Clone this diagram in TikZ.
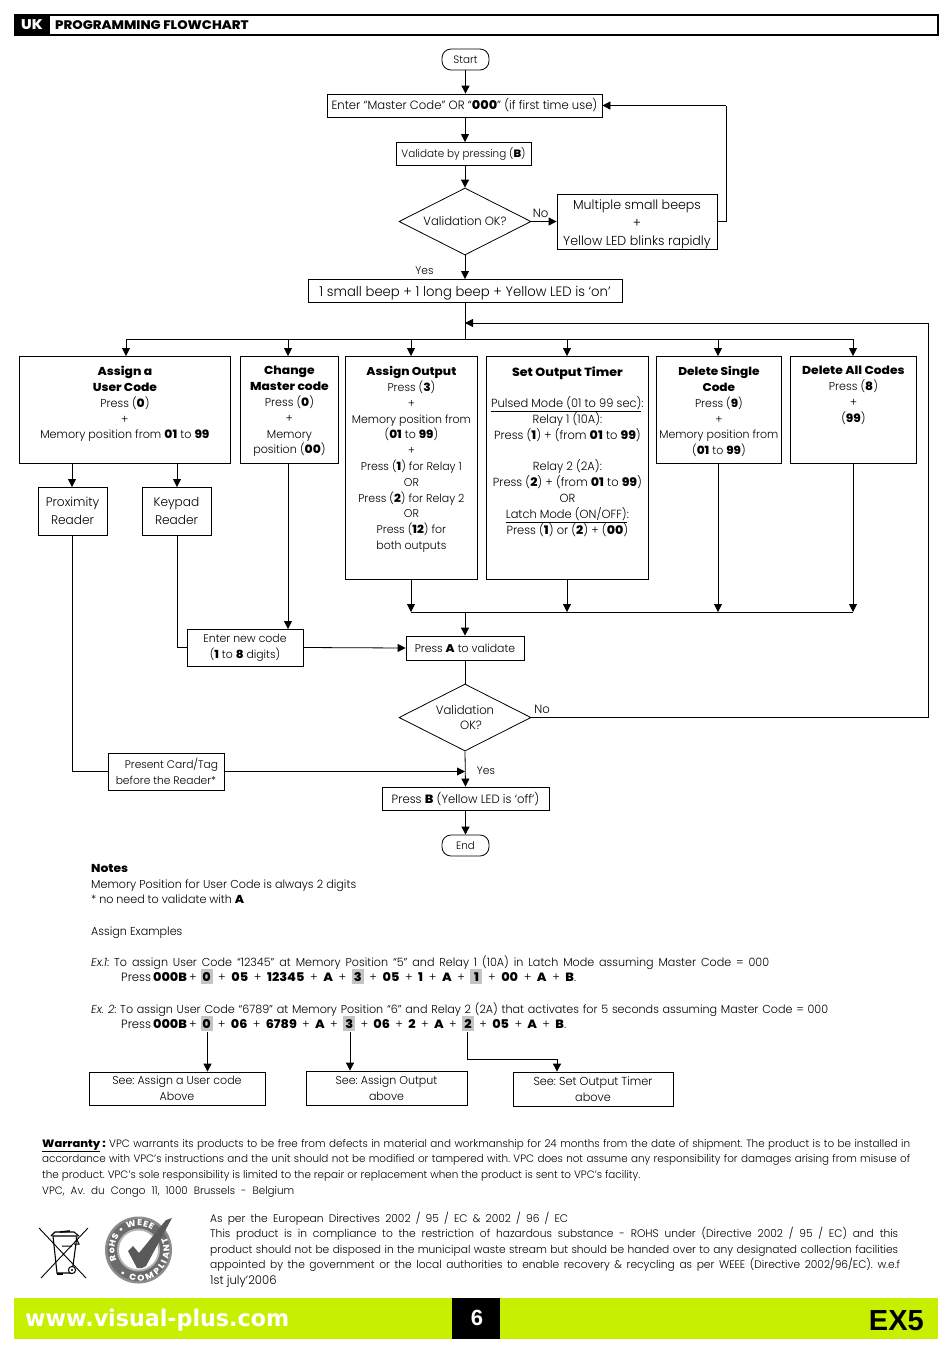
\documentclass[tikz,border=0pt]{standalone}
\usepackage{fontspec}
\usetikzlibrary{arrows.meta,shapes.geometric,decorations.text}
\setmainfont{Poppins}[UprightFont=* Light,BoldFont=* ExtraBold,ItalicFont=* Light Italic,BoldItalicFont=* ExtraBold Italic,FakeStretch=0.97,BoldFeatures={FakeStretch=1.07}]
\newfontfamily\wwwfont{DejaVu Sans}[FakeStretch=0.965]
\newfontfamily\arialfont{Liberation Sans}
\definecolor{limeband}{HTML}{C6F000}
\definecolor{hlgray}{HTML}{C4C4C4}
\AtBeginDocument{\frenchspacing}
\newcommand{\fsz}[1]{\fontsize{#1}{15.8}\selectfont}
\newcommand{\tbox}[4]{\parbox[c][#2pt][t]{#1pt}{\fsz{#3}\centering\vspace*{10pt}#4}}
\newcommand{\wln}[2]{\hbox to #1pt{#2}}
\newcommand{\hlb}[1]{\tikz[baseline=0pt,x=1pt,y=1pt]{\fill[hlgray](-6,-3)rectangle(6,12);\node[inner sep=0,anchor=base] at (0,0){\textbf{#1}};}}
\tikzset{
 x=1pt,y=-1pt,
 >={Triangle[length=8pt,width=8pt]},
 conn/.style={draw,line width=.8pt},
 flow/.style={conn,->},
 boxy/.style={draw,line width=.8pt,inner sep=0pt,align=center,font=\fsz{11.5}},
 pill/.style={boxy,rounded corners=9pt,minimum width=47pt,minimum height=21pt},
 dia/.style={draw,line width=.8pt,diamond,aspect=1.97,inner sep=0pt,minimum width=132pt,minimum height=67pt,align=center,font=\fsz{12}},
 lab/.style={inner sep=0pt,font=\fsz{11.5}},
 txt/.style={inner sep=0pt,anchor=base west,font=\fsz{11.5}},
}
\begin{document}
\begin{tikzpicture}
\useasboundingbox (0,0) rectangle (950,1353);
% header
\node[draw,line width=2pt,minimum width=923pt,minimum height=20pt,inner sep=0pt] (hdr) at (476,25) {};
\node[fill=black,text=white,font=\fsz{14}\bfseries,minimum width=36pt,minimum height=21pt,inner sep=0pt] (uk) at (32,25) {UK};
\node[inner sep=0pt,anchor=base west,font=\fsz{12.4}\bfseries] (ttl) at (55,29.5) {PROGRAMMING FLOWCHART};
% top chain
\node[pill,font=\fsz{10.7}] (start) at (465.5,59.5) {Start};
\node[boxy,minimum width=275pt,minimum height=23pt,font=\fsz{12}] (enter) at (464.5,105.5) {Enter “Master Code” OR “\textbf{000}” (if first time use)};
\node[boxy,minimum width=135pt,minimum height=23pt,font=\fsz{10.7}] (valid) at (463.5,153.5) {Validate by pressing (\textbf{B})};
\node[dia] (d1) at (465,221.5) {Validation OK?};
\node[boxy,minimum width=160pt,minimum height=55pt,font=\fsz{13}] (multi) at (637,221.5) {\rule{0pt}{15pt}Multiple small beeps\\[2pt]+\\[2pt]Yellow LED blinks rapidly};
\node[boxy,minimum width=314pt,minimum height=23pt,font=\fsz{13.6}] (beep) at (465,290.5) {\rule{0pt}{15pt}1 small beep + 1 long beep + Yellow LED is ‘on’};
\node[lab,font=\fsz{12}] (no1) at (540.5,213) {No};
\node[lab,font=\fsz{11}] (yes1) at (424.5,270.5) {Yes};
% six boxes
\node[boxy,anchor=north west] (b1) at (19,356) {\tbox{211}{107}{11.5}{\textbf{Assign a}\\\textbf{User Code}\\Press (\textbf{0})\\+\\Memory position from \textbf{01} to \textbf{99}}};
\node[boxy,anchor=north west] (b2) at (240,356) {\tbox{98}{107}{11.5}{\textbf{Change}\\\textbf{Master code}\\Press (\textbf{0})\\+\\Memory\\position (\textbf{00})}};
\node[boxy,anchor=north west] (b3) at (345,356) {\tbox{132}{223}{11.3}{\textbf{Assign Output}\\Press (\textbf{3})\\+\\Memory position from\\(\textbf{01} to \textbf{99})\\+\\Press (\textbf{1}) for Relay 1\\OR\\Press (\textbf{2}) for Relay 2\\OR\\Press (\textbf{12}) for\\both outputs}};
\node[boxy,anchor=north west] (b4) at (486,356) {\tbox{162}{223}{11.8}{\textbf{Set Output Timer}\\[15.8pt]\underline{Pulsed Mode (01 to 99 sec)}:\\Relay 1 (10A):\\Press (\textbf{1}) + (from \textbf{01} to \textbf{99})\\[15.8pt]Relay 2 (2A):\\Press (\textbf{2}) + (from \textbf{01} to \textbf{99})\\OR\\\underline{Latch Mode (ON/OFF)}:\\Press (\textbf{1}) or (\textbf{2}) + (\textbf{00})}};
\node[boxy,anchor=north west] (b5) at (656,356) {\tbox{125}{107}{11.3}{\textbf{Delete Single}\\\textbf{Code}\\Press (\textbf{9})\\+\\Memory position from\\(\textbf{01} to \textbf{99})}};
\node[boxy,anchor=north west] (b6) at (790,356) {\tbox{126}{107}{11.5}{\textbf{Delete All Codes}\\Press (\textbf{8})\\+\\(\textbf{99})}};
\node[boxy,minimum width=69pt,minimum height=48pt,font=\fsz{12.5}] (prox) at (72.5,511) {Proximity\\[2pt]Reader};
\node[boxy,minimum width=69pt,minimum height=48pt,font=\fsz{12.5}] (key) at (176.5,511) {Keypad\\[2pt]Reader};
\node[boxy,minimum width=116pt,minimum height=37pt,font=\fsz{11.2}] (newc) at (245,647.5) {Enter new code\\(\textbf{1} to \textbf{8} digits)};
\node[boxy,minimum width=118pt,minimum height=24pt,font=\fsz{11.2}] (pa) at (465,648) {Press \textbf{A} to validate};
\node[dia] (d2) at (465,717.5) {Validation\\\quad OK?};
\node[boxy,minimum width=116pt,minimum height=37pt,font=\fsz{11}] (card) at (166,771.5) {\quad Present Card/Tag\\before the Reader*};
\node[boxy,minimum width=167pt,minimum height=23pt,font=\fsz{12}] (pb) at (465.5,798.5) {Press \textbf{B} (Yellow LED is ‘off’)};
\node[pill,font=\fsz{10.7}] (end) at (465.5,845.5) {End};
\node[lab,font=\fsz{12}] (no2) at (542,709.5) {No};
\node[lab,font=\fsz{11}] (yes2) at (486,770.5) {Yes};
% junctions
\coordinate (bus1) at (465,339);
\coordinate (busL) at (126,339);
\coordinate (busR) at (853,339);
\coordinate (loopA) at (465,323);
\coordinate (loopB) at (928,323);
\coordinate (loopC) at (928,717.5);
\coordinate (bus2L) at (411,612);
\coordinate (bus2R) at (853,612);
\coordinate (bus2M) at (465,612);
\coordinate (retA) at (726,221.5);
\coordinate (retB) at (726,105.5);
\coordinate (crd) at (465,771.5);
% connectors
\draw[flow] (start) -- (start|-enter.north);
\draw[flow] (465,117) -- (465,142);
\draw[flow] (465,165) -- (d1.north);
\draw[flow] (d1.east) -- (multi.west);
\draw[conn] (multi.east) -- (retA) -- (retB);
\draw[flow] (retB) -- (enter.east);
\draw[flow] (d1.south) -- (465,279);
\draw[conn] (beep.south) -- (bus1);
\draw[conn] (busL) -- (busR);
\foreach \n/\xx in {b1/126,b2/288,b3/411,b4/567,b5/718,b6/853}{\draw[flow] (\xx,339) -- (\xx,356);}
\draw[flow] (d2.east) -- (loopC) -- (loopB) -- (loopA);
\draw[flow] (72,463) -- (72,487);
\draw[flow] (177,463) -- (177,487);
\draw[conn] (72,535) |- (card.west);
\draw[conn] (177,535) |- (newc.west);
\draw[flow] (288,463) -- (288,629);
\draw[flow] (newc.east) -- (pa.west);
\draw[flow] (411,579) -- (bus2L);
\draw[flow] (567,579) -- (567,612);
\draw[flow] (718,463) -- (718,612);
\draw[flow] (853,463) -- (bus2R);
\draw[conn] (bus2L) -- (bus2R);
\draw[flow] (bus2M) -- (pa.north);
\draw[conn] (pa.south) -- (d2.north);
\draw[flow] (d2.south) -- (pb.north);
\draw[flow] (card.east) -- (crd);
\draw[flow] (pb.south) -- (end.north);
% notes
\node[txt,font=\fsz{11.5}\bfseries] (n1) at (91,872) {Notes};
\node[txt] (n2) at (91,888) {\wln{265}{Memory Position for User Code is always 2 digits}};
\node[txt] (n3) at (91,903.5) {\wln{153}{* no need to validate with \textbf{A}}};
\node[txt] (n4) at (91,935) {Assign Examples};
\node[txt] (e1) at (91,966) {\wln{678}{\textit{Ex.1}: To assign User Code “12345” at Memory Position “5” and Relay 1 (10A) in Latch Mode assuming Master Code = 000}};
\node[txt,font=\fsz{12}] (e1b) at (121,981) {\wln{455}{Press\hspace{2pt}\textbf{000B}\hspace{2pt}+\hspace{4pt}\hlb{0} + \textbf{05} + \textbf{12345} + \textbf{A} + \hlb{3} + \textbf{05} + \textbf{1} + \textbf{A} + \hlb{1} + \textbf{00} + \textbf{A} + \textbf{B}.}};
\node[txt] (e2) at (91,1013) {\wln{737}{\textit{Ex. 2}: To assign User Code “6789” at Memory Position “6” and Relay 2 (2A) that activates for 5 seconds assuming Master Code = 000}};
\node[txt,font=\fsz{12}] (e2b) at (121,1028) {\wln{445}{Press\hspace{2pt}\textbf{000B}\hspace{2pt}+\hspace{4pt}\hlb{0} + \textbf{06} + \textbf{6789} + \textbf{A} + \hlb{3} + \textbf{06} + \textbf{2} + \textbf{A} + \hlb{2} + \textbf{05} + \textbf{A} + \textbf{B}.}};
\node[boxy,minimum width=176pt,minimum height=33pt,font=\fsz{11.4}] (s1) at (177,1088.5) {See: Assign a User code\\Above};
\node[boxy,minimum width=161pt,minimum height=34pt,font=\fsz{11.4}] (s2) at (386.5,1088) {See: Assign Output\\above};
\node[boxy,minimum width=160pt,minimum height=34pt,font=\fsz{11.6}] (s3) at (593,1089) {See: Set Output Timer\\above};
\coordinate (h1) at (207.5,1032);
\coordinate (h2) at (350,1032);
\coordinate (h3) at (467,1032);
\coordinate (h3b) at (467,1059);
\coordinate (h3c) at (557,1059);
\draw[flow] (h1) -- (s1.north-|h1);
\draw[flow] (h2) -- (s2.north-|h2);
\draw[flow] (h3) -- (h3b) -- (h3c) -- (s3.north-|h3c);
% warranty
\tikzset{small/.style={txt,font=\fsz{10.7}},medi/.style={txt,font=\fsz{11}}}
\node[small] (w1) at (42,1147) {\wln{868}{\textbf{\underline{Warranty}\,:} VPC warrants its products to be free from defects in material and workmanship for 24 months from the date of shipment. The product is to be installed in}};
\node[small] (w2) at (42,1162) {\wln{868}{accordance with VPC's instructions and the unit should not be modified or tampered with. VPC does not assume any responsibility for damages arising from misuse of}};
\node[small] (w3) at (42,1178) {\wln{598}{the product. VPC's sole responsibility is limited to the repair or replacement when the product is sent to VPC's facility.}};
\node[small] (w4) at (42,1194) {\wln{252}{VPC, Av. du Congo 11, 1000 Brussels - Belgium}};
\node[medi] (r1) at (210,1222) {\wln{358}{As per the European Directives 2002 / 95 / EC \& 2002 / 96 / EC}};
\node[medi] (r2) at (210,1237) {\wln{688}{This product is in compliance to the restriction of hazardous substance  - ROHS under (Directive 2002 / 95 / EC) and this}};
\node[medi] (r3) at (210,1253) {\wln{688}{product should not be disposed in the municipal waste stream but should be handed over to any designated collection facilities}};
\node[medi] (r4) at (210,1268) {\wln{690}{appointed by the government or the local authorities to enable recovery \& recycling as per WEEE (Directive 2002/96/EC). w.e.f}};
\node[medi,font=\fsz{12}] (r5) at (210,1284) {1st july’2006};
% WEEE bin
\draw[line width=.9pt] (39,1228) -- (86,1278) (88,1228) -- (41,1278);
\draw[line width=1.1pt] (53,1236) -- (77,1236) -- (72,1273) -- (57,1273) -- cycle;
\draw[line width=1.1pt] (51,1236) -- (55,1232) -- (74,1232) -- (79,1236);
\draw[line width=1.6pt] (60,1232) -- (70,1231);
\draw[line width=1pt] (76,1238) -- (79,1244) -- (74,1244) (62,1246) -- (72,1246);
\draw[line width=1pt,fill=white] (72,1270) circle (3.6pt);
\fill (72,1270) circle (1.2pt);
\fill (57,1273) rectangle (63,1275);
% RoHS badge
\fill[black!45] (138.5,1250) circle (33.5pt);
\fill[black!58] (138.5,1250) circle (31pt);
\fill[black!30] (138.5,1250) circle (21.5pt);
\fill[white] (138.5,1250) circle (19.5pt);
\fill[black!65] (128,1251) -- (133,1246) -- (139,1253) -- (166,1220) -- (172,1218) -- (146,1266) -- (142,1268) -- (137,1268) -- cycle;
\path[decorate,decoration={text along path,text align={fit to path},text={|\fontsize{8.5}{10}\selectfont\bfseries\color{white}|RoHS • WEEE}}] (116.75,1260.14) arc[start angle=205,end angle=55,radius=24pt];
\path[decorate,decoration={text along path,text align={fit to path},text={|\fontsize{8.5}{10}\selectfont\bfseries\color{white}|• COMPLIANT}}] (119.4,1274.4) arc[start angle=232,end angle=385,radius=31pt];
% footer
\fill[limeband] (14,1298) rectangle (938,1339);
\fill[black] (452,1298) rectangle (500,1339);
\node[inner sep=0pt,anchor=base west,text=white,font=\fontsize{23}{25}\wwwfont\bfseries] (www) at (25,1326) {www.visual-plus.com};
\node[inner sep=0pt,text=white,font=\fontsize{22}{24}\arialfont\bfseries] (pg) at (477,1318) {6};
\node[inner sep=0pt,anchor=base east,font=\fontsize{29}{31}\arialfont\bfseries] (ex) at (924,1330) {EX5};
\end{tikzpicture}
\end{document}
